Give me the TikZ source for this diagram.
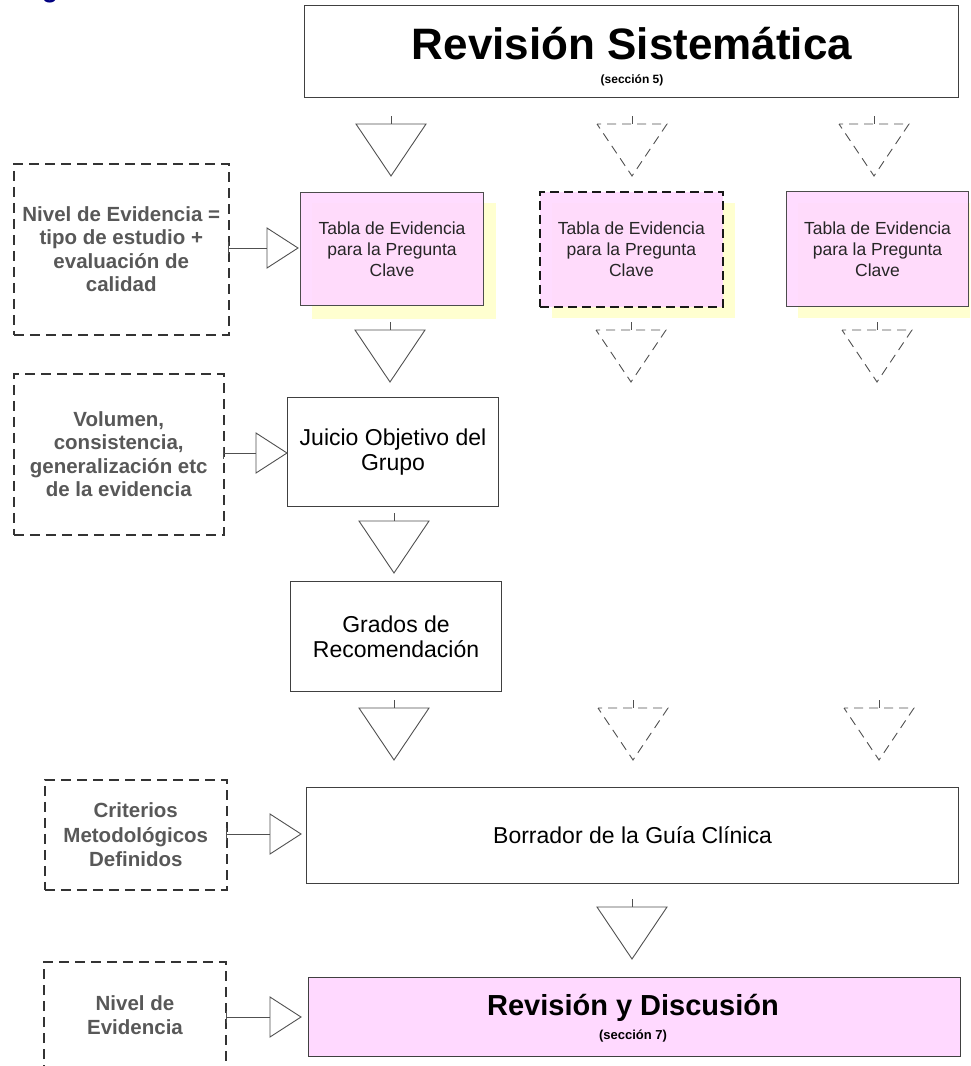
\documentclass[tikz,border=0pt]{standalone}
\usepackage{fontspec}
\setmainfont{Liberation Sans}
\definecolor{pinkf}{RGB}{255,217,255}
\definecolor{yelf}{RGB}{255,255,208}
\definecolor{tgray}{RGB}{88,88,88}
\definecolor{navyg}{RGB}{0,0,128}
\definecolor{lcol}{RGB}{80,80,80}
\newcommand\flowdown[4]{%
  \coordinate (#4-s) at (#2,#3-8);
  \coordinate (#4-l) at (#2-35,#3);
  \coordinate (#4-r) at (#2+35,#3);
  \coordinate (#4) at (#2,#3+52);
  \draw[stemline] (#4-s) -- (#2,#3);
  \draw[#1] (#4-l) -- (#4-r) -- (#4) -- cycle;}
\newcommand\flowright[5]{%
  \coordinate (#5-s) at (#2,#4);
  \coordinate (#5) at (#3+31,#4);
  \draw[stemline] (#2,#4-6) -- (#2,#4+6);
  \draw[stemline] (#5-s) -- (#3,#4);
  \draw[tri] (#3,#4-20) -- (#5) -- (#3,#4+20) -- cycle;}
\begin{document}
\begin{tikzpicture}[x=1pt,y=-1pt,
  box/.style={draw=black!75, line width=1.1pt, fill=white, inner sep=0pt, anchor=north west, align=center, text=black},
  tabla/.style={draw=black!70, line width=1pt, fill=pinkf, fill opacity=0.93, text opacity=1, inner sep=0pt, anchor=north west, align=center, text=black!85, font=\fontsize{17.5}{21}\selectfont},
  note/.style={draw=black!80, line width=1.5pt, dash pattern=on 10pt off 6pt, inner sep=0pt, anchor=north west, align=center, text=tgray, font=\bfseries\fontsize{20.5}{23.5}\selectfont},
  notetext/.style={inner sep=0pt, align=center, text=tgray, font=\bfseries\fontsize{20.5}{24.5}\selectfont},
  body/.style={font=\fontsize{23}{25.5}\selectfont},
  tri/.style={draw=lcol, line width=0.9pt, line join=miter},
  dtri/.style={tri, dash pattern=on 9pt off 6pt, dash phase=5pt},
  stemline/.style={draw=lcol, line width=0.9pt}]
\useasboundingbox (0,0) rectangle (970,1066);
\clip (0,0) rectangle (970,1066);

% cut-off heading letter
\node[anchor=base west, inner sep=0pt, text=navyg, font=\bfseries\fontsize{26}{26}\selectfont] (hg) at (42,-2.5) {g};

% top box
\node[box, minimum width=654pt, minimum height=92pt] (rs) at (304,5) {};
\node[anchor=base, inner sep=0pt, font=\bfseries\fontsize{44}{44}\selectfont] (rstitle) at (632,59) {Revisión Sistemática};
\node[anchor=base, inner sep=0pt, font=\bfseries\fontsize{12}{12}\selectfont] (rssub) at (632,83) {(sección 5)};

% row 1 arrows
\flowdown{tri}{391}{124}{a1}
\flowdown{dtri}{632}{124}{a2}
\flowdown{dtri}{874}{124}{a3}

% tables with shadows
\fill[yelf] (312,203) rectangle (496,319);
\node[tabla, minimum width=183pt, minimum height=113pt] (t1) at (300,192) {Tabla de Evidencia\\para la Pregunta\\Clave};
\fill[yelf] (552,203) rectangle (735,318);
\node[tabla, draw=black!90, line width=1.8pt, dash pattern=on 9pt off 5pt, minimum width=183pt, minimum height=115pt] (t2) at (539,191) {Tabla de Evidencia\\para la Pregunta\\Clave};
\fill[yelf] (798,203) rectangle (975,318);
\node[tabla, minimum width=182pt, minimum height=115pt] (t3) at (786,191) {Tabla de Evidencia\\para la Pregunta\\Clave};

% left note 1
\node[note, minimum width=215pt, minimum height=171pt] (n1) at (13,163) {Nivel de Evidencia =\\tipo de estudio +\\evaluación de\\calidad};
\flowright{tri}{228}{267}{248}{s1}

% row 2 arrows
\flowdown{tri}{390}{330}{b1}
\flowdown{dtri}{631}{330}{b2}
\flowdown{dtri}{877}{330}{b3}

% Juicio
\node[box, body, minimum width=211pt, minimum height=109pt] (juicio) at (287,397) {Juicio Objetivo del\\Grupo};
\node[note, minimum width=210pt, minimum height=161pt] (n2) at (13,373) {Volumen,\\consistencia,\\generalización etc\\de la evidencia};
\flowright{tri}{223}{256}{453}{s2}

% row 3
\flowdown{tri}{394}{521}{c1}

% Grados
\node[box, body, minimum width=211pt, minimum height=110pt] (grados) at (290,581) {Grados de\\Recomendación};

% row 4
\flowdown{tri}{394}{708}{d1}
\flowdown{dtri}{633}{708}{d2}
\flowdown{dtri}{879}{708}{d3}

% Borrador
\node[box, minimum width=652pt, minimum height=96pt, font=\fontsize{23}{25}\selectfont] (borr) at (306,787) {Borrador de la Guía Clínica};
\node[note, notetext, draw=black!80, minimum width=182pt, minimum height=110pt] (n3) at (44,779) {Criterios\\Metodológicos\\Definidos};
\flowright{tri}{226}{270}{834}{s3}

% row 5
\flowdown{tri}{632}{907}{e1}

% Revision y discusion
\node[box, fill=pinkf, minimum width=652pt, minimum height=79pt] (rev) at (308,977) {};
\node[anchor=base, inner sep=0pt, font=\bfseries\fontsize{29}{29}\selectfont] (revtitle) at (633,1015) {Revisión y Discusión};
\node[anchor=base, inner sep=0pt, font=\bfseries\fontsize{13}{13}\selectfont] (revsub) at (633,1039) {(sección 7)};

% left note 4 (cut off at bottom)
\draw[draw=black!80, line width=1.5pt, dash pattern=on 10pt off 6pt] (44,1075) -- (44,962) -- (226,962) -- (226,1075);
\node[notetext] (n4) at (135,1015) {Nivel de\\Evidencia};
\flowright{tri}{226}{270}{1017}{s4}
\end{tikzpicture}
\end{document}
